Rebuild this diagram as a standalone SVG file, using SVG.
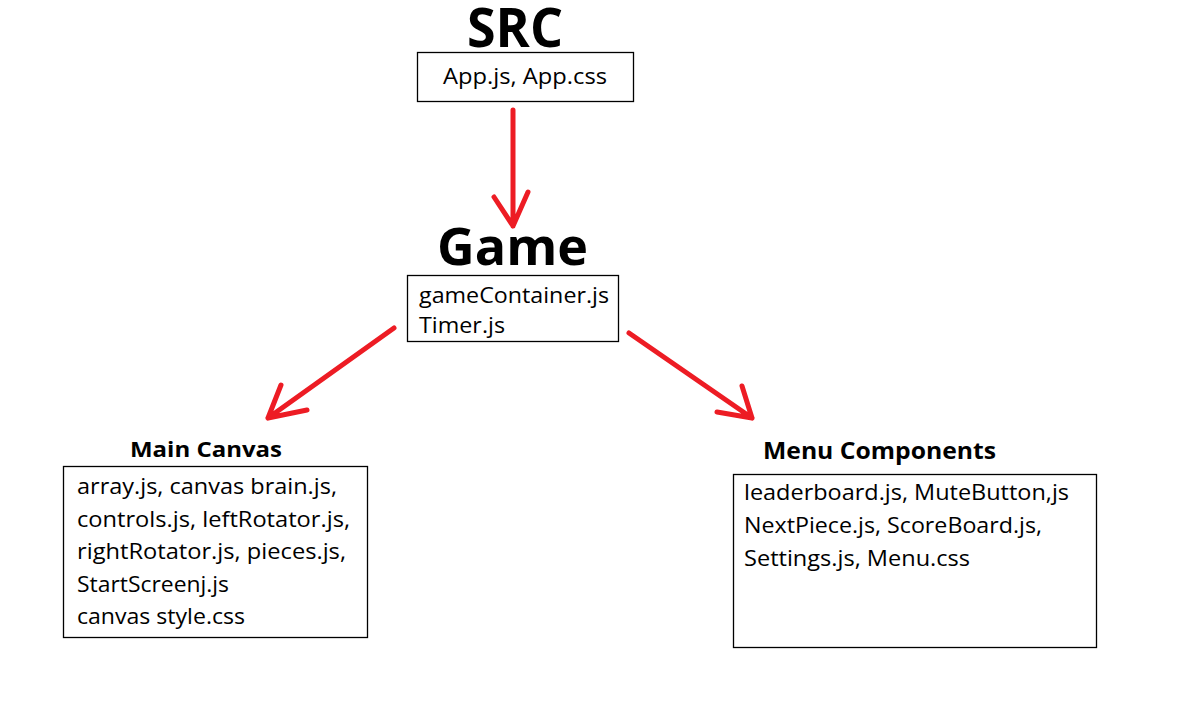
<svg xmlns="http://www.w3.org/2000/svg" width="1191" height="718" viewBox="0 0 1191 718">
<style>
.box{fill:#fff;stroke:#000;stroke-width:1.3}
.t{font-family:"Open Sans","Liberation Sans",sans-serif;font-size:22px;fill:#000}
.h{font-family:"Open Sans","Liberation Sans",sans-serif;font-weight:bold;fill:#000}
.c{stroke:#ED1C24;stroke-width:5;fill:none;stroke-linecap:round;stroke-linejoin:round}
</style>
<rect width="1191" height="718" fill="#fff"/>
<g id="connectors">
<path class="c" d="M513,110 L513,226 M494,197 L513,226 L528,192"/>
<path class="c" d="M394,328 L268,418 M281,385 L268,418 L307,410"/>
<path class="c" d="M629,333 L752,418 M742,386 L752,418 L717,412"/>
</g>
<g id="src">
<text class="h" x="467" y="47" font-size="54" textLength="96" lengthAdjust="spacingAndGlyphs">SRC</text>
<rect class="box" x="417.5" y="52.5" width="216" height="49"/>
<text class="t" x="443" y="84" textLength="164" lengthAdjust="spacingAndGlyphs">App.js, App.css</text>
</g>
<g id="game">
<text class="h" x="437" y="265" font-size="52" textLength="151" lengthAdjust="spacingAndGlyphs">Game</text>
<rect class="box" x="407.5" y="275.5" width="211" height="66"/>
<text class="t" x="419" y="303" textLength="190" lengthAdjust="spacingAndGlyphs">gameContainer.js</text>
<text class="t" x="419" y="333" textLength="86" lengthAdjust="spacingAndGlyphs">Timer.js</text>
</g>
<g id="main-canvas">
<text class="h" x="130" y="457" font-size="22" textLength="152" lengthAdjust="spacingAndGlyphs">Main Canvas</text>
<rect class="box" x="63.5" y="466.5" width="304" height="171"/>
<text class="t" x="77" y="494" textLength="260" lengthAdjust="spacingAndGlyphs">array.js, canvas brain.js,</text>
<text class="t" x="77" y="527" textLength="273" lengthAdjust="spacingAndGlyphs">controls.js, leftRotator.js,</text>
<text class="t" x="77" y="559" textLength="269" lengthAdjust="spacingAndGlyphs">rightRotator.js, pieces.js,</text>
<text class="t" x="77" y="592" textLength="152" lengthAdjust="spacingAndGlyphs">StartScreenj.js</text>
<text class="t" x="77" y="624" textLength="168" lengthAdjust="spacingAndGlyphs">canvas style.css</text>
</g>
<g id="menu-components">
<text class="h" x="763" y="459" font-size="23" textLength="233" lengthAdjust="spacingAndGlyphs">Menu Components</text>
<rect class="box" x="733.5" y="474.5" width="363" height="173"/>
<text class="t" x="744" y="500" textLength="325" lengthAdjust="spacingAndGlyphs">leaderboard.js, MuteButton,js</text>
<text class="t" x="744" y="533" textLength="298" lengthAdjust="spacingAndGlyphs">NextPiece.js, ScoreBoard.js,</text>
<text class="t" x="744" y="566" textLength="226" lengthAdjust="spacingAndGlyphs">Settings.js, Menu.css</text>
</g>
</svg>
